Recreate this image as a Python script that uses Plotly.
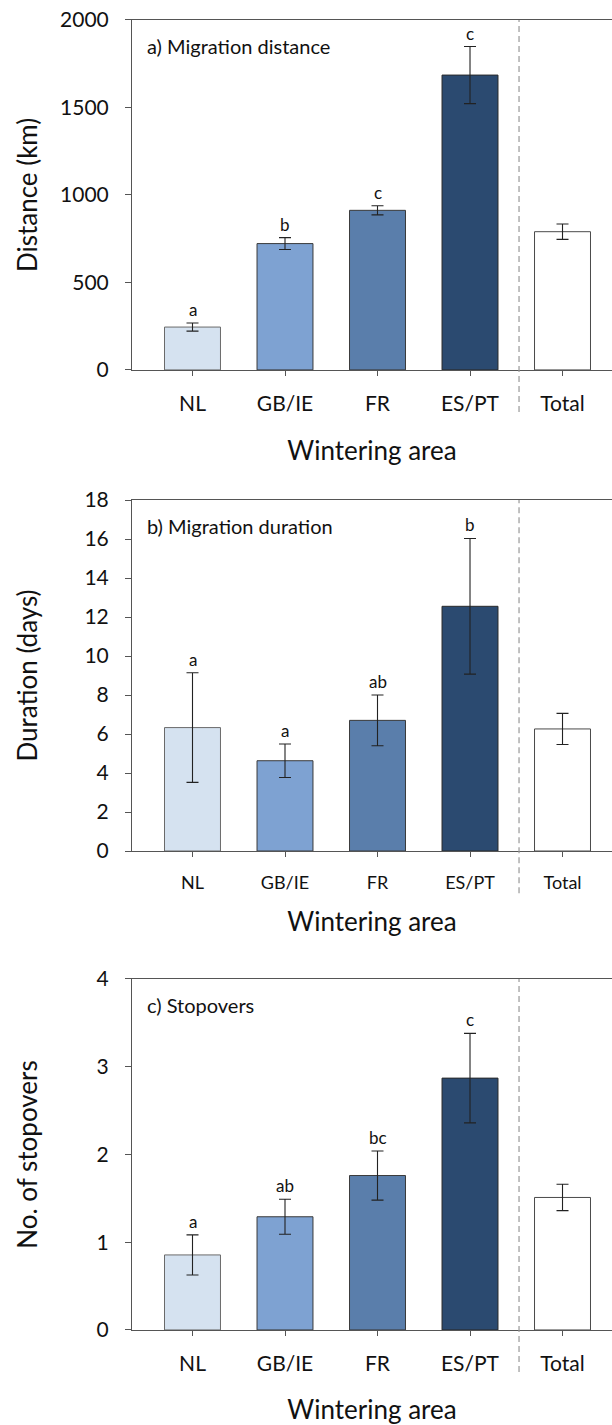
import plotly.graph_objects as go

categories = ["NL", "GB/IE", "FR", "ES/PT", "Total"]
bar_colors = ["#d5e2f0", "#7ea2d2", "#5a7eab", "#2b4a70", "#ffffff"]

distance_mean = [245, 722, 912, 1685, 790]
distance_err = [23, 34, 26, 163, 44]
distance_letters = ["a", "b", "c", "c", ""]

duration_mean = [6.33, 4.63, 6.70, 12.55, 6.26]
duration_err = [2.81, 0.86, 1.30, 3.48, 0.80]
duration_letters = ["a", "a", "ab", "b", ""]

stopover_mean = [0.855, 1.29, 1.76, 2.87, 1.51]
stopover_err = [0.228, 0.20, 0.28, 0.51, 0.15]
stopover_letters = ["a", "ab", "bc", "c", ""]

panels = [
    dict(mean=distance_mean, err=distance_err, letters=distance_letters,
         title="a) Migration distance", ytitle="Distance (km)",
         yrange=[0, 2000], dtick=500, domain=[0.7404, 0.986],
         xtick=21, ystand=14, xstand=27),
    dict(mean=duration_mean, err=duration_err, letters=duration_letters,
         title="b) Migration duration", ytitle="Duration (days)",
         yrange=[0, 18], dtick=2, domain=[0.4028, 0.6491],
         xtick=18, ystand=39, xstand=21),
    dict(mean=stopover_mean, err=stopover_err, letters=stopover_letters,
         title="c) Stopovers", ytitle="No. of stopovers",
         yrange=[0, 4], dtick=1, domain=[0.0667, 0.313],
         xtick=21, ystand=51, xstand=27),
]

FONT = "Lato"
fig = go.Figure()
annotations = []
shapes = []
layout = {}
for i, p in enumerate(panels, start=1):
    xa = "x" if i == 1 else f"x{i}"
    ya = "y" if i == 1 else f"y{i}"
    fig.add_trace(go.Bar(
        x=categories, y=p["mean"], xaxis=xa, yaxis=ya,
        width=0.605,
        marker=dict(color=bar_colors,
                    line=dict(color=["#6a6a6a", "#3a3a3a", "#3a3a3a", "#2a2a2a", "#4a4a4a"], width=1)),
        error_y=dict(type="data", array=p["err"], visible=True,
                     color="#222222", thickness=1.1, width=6),
        showlegend=False,
    ))
    xkey = "xaxis" if i == 1 else f"xaxis{i}"
    ykey = "yaxis" if i == 1 else f"yaxis{i}"
    layout[xkey] = dict(
        domain=[0, 1], anchor=ya, type="category",
        categoryorder="array", categoryarray=categories,
        range=[-0.654, 4.535], automargin=False,
        showline=True, linecolor="#555555", linewidth=1, mirror=True,
        ticks="outside", ticklen=5, tickcolor="#555555",
        tickfont=dict(family=FONT, size=p["xtick"], color="#111111"),
        ticklabelstandoff=10,
        showgrid=False, zeroline=False,
        title=dict(text="Wintering area", standoff=p["xstand"],
                   font=dict(family=FONT, size=26, color="#111111")),
    )
    layout[ykey] = dict(
        domain=p["domain"], anchor=xa, automargin=False,
        range=p["yrange"], dtick=p["dtick"],
        showline=True, linecolor="#555555", linewidth=1,
        ticks="outside", ticklen=6, tickcolor="#555555",
        tickfont=dict(family=FONT, size=21, color="#111111"),
        ticklabelstandoff=12,
        showgrid=False, zeroline=False,
        title=dict(text=p["ytitle"], standoff=p["ystand"],
                   font=dict(family=FONT, size=26, color="#111111")),
    )
    annotations.append(dict(
        text=p["title"], xref=f"{xa} domain", yref=f"{ya} domain",
        x=0.027, y=0.926, xanchor="left", yanchor="middle", showarrow=False,
        font=dict(family=FONT, size=20, color="#111111")))
    for c, m, e, l in zip(categories, p["mean"], p["err"], p["letters"]):
        if l:
            annotations.append(dict(
                text=l, x=c, y=m + e, xref=xa, yref=ya,
                xanchor="center", yanchor="bottom", yshift=1, showarrow=False,
                font=dict(family=FONT, size=17, color="#111111")))
    shapes.append(dict(
        type="line", xref=xa, yref=f"{ya} domain",
        x0=3.53, x1=3.53, y0=-0.12, y1=1,
        line=dict(color="#999999", width=1.2, dash="6px,4px")))

fig.update_layout(
    width=612, height=1425,
    margin=dict(l=132, r=0, t=0, b=0, autoexpand=False),
    paper_bgcolor="white", plot_bgcolor="white",
    annotations=annotations, shapes=shapes,
    **layout,
)
fig.write_html(
    "out.html",
    config={"displayModeBar": False},
    post_script="document.body.style.margin='0';document.body.style.overflow='hidden';",
)
